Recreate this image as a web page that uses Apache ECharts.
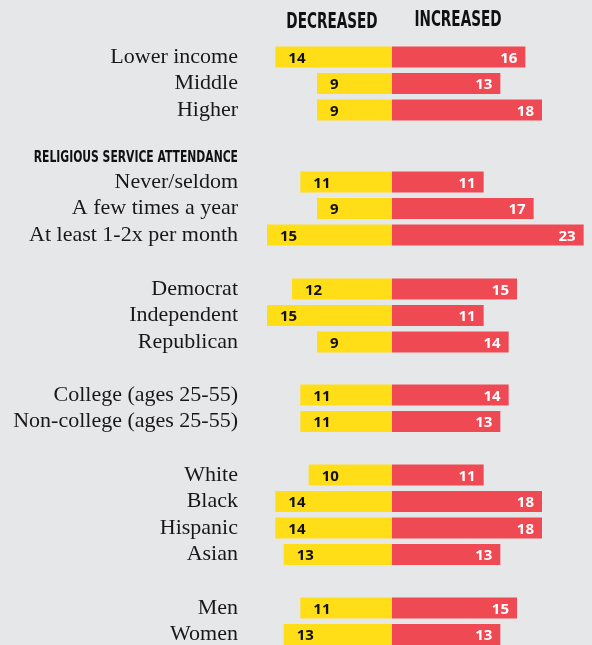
<!DOCTYPE html>
<html>
<head>
<meta charset="utf-8">
<script src="https://cdn.jsdelivr.net/npm/echarts@6/dist/echarts.min.js"></script>
<style>
html,body{margin:0;padding:0;background:#e6e7e8;}
#chart{width:592px;height:645px;}
</style>
</head>
<body>
<div id="chart"></div>
<script>
// ---- data ----
const incomeCats = ['Lower income', 'Middle', 'Higher'];
const incomeDec = [14, 9, 9];
const incomeInc = [16, 13, 18];

const religionTitle = 'RELIGIOUS SERVICE ATTENDANCE';
const religionCats = ['Never/seldom', 'A few times a year', 'At least 1-2x per month'];
const religionDec = [11, 9, 15];
const religionInc = [11, 17, 23];

const partyCats = ['Democrat', 'Independent', 'Republican'];
const partyDec = [12, 15, 9];
const partyInc = [15, 11, 14];

const eduCats = ['College (ages 25-55)', 'Non-college (ages 25-55)'];
const eduDec = [11, 11];
const eduInc = [14, 13];

const raceCats = ['White', 'Black', 'Hispanic', 'Asian'];
const raceDec = [10, 14, 14, 13];
const raceInc = [11, 18, 18, 13];

const genderCats = ['Men', 'Women'];
const genderDec = [11, 13];
const genderInc = [15, 13];

const headerDec = 'DECREASED';
const headerInc = 'INCREASED';

// ---- layout ----
const groups = [
  {cats: incomeCats, dec: incomeDec, inc: incomeInc, first: 57},
  {cats: religionCats, dec: religionDec, inc: religionInc, first: 182},
  {cats: partyCats, dec: partyDec, inc: partyInc, first: 289},
  {cats: eduCats, dec: eduDec, inc: eduInc, first: 395},
  {cats: raceCats, dec: raceDec, inc: raceInc, first: 475},
  {cats: genderCats, dec: genderDec, inc: genderInc, first: 608}
];
const STEP = 26.5;
const YELLOW = '#FFDE17';
const RED = '#EF4A54';

const grid = [], xAxis = [], yAxis = [], series = [];
groups.forEach((g, i) => {
  grid.push({left: 242, width: 350, top: g.first - STEP / 2, height: g.cats.length * STEP,
    outerBoundsMode: 'none'});
  xAxis.push({type: 'value', gridIndex: i, min: -18, max: 24, show: false});
  yAxis.push({
    type: 'category', gridIndex: i, data: g.cats, inverse: true,
    axisLine: {show: false}, axisTick: {show: false}, splitLine: {show: false},
    axisLabel: {margin: 4, interval: 0, hideOverlap: false, color: '#1a1718',
      fontFamily: 'Liberation Serif', fontSize: 22}
  });
  series.push({
    type: 'bar', xAxisIndex: i, yAxisIndex: i, barWidth: 21, barGap: '-100%',
    data: g.dec.map(v => -v), itemStyle: {color: YELLOW}, silent: true,
    label: {show: true, position: 'insideLeft', distance: 13, offset: [0, 1.5],
      formatter: p => Math.abs(p.value), color: '#111', fontFamily: 'Open Sans',
      fontWeight: 'bold', fontSize: 15}
  });
  series.push({
    type: 'bar', xAxisIndex: i, yAxisIndex: i, barWidth: 21, barGap: '-100%',
    data: g.inc, itemStyle: {color: RED}, silent: true,
    label: {show: true, position: 'insideRight', distance: 8, offset: [0, 1.5],
      color: '#fff', fontFamily: 'Open Sans', fontWeight: 'bold', fontSize: 15}
  });
});

const chart = echarts.init(document.getElementById('chart'));
chart.setOption({
  backgroundColor: '#e6e7e8',
  animation: false,
  grid, xAxis, yAxis, series,
  graphic: [
    {type: 'text', x: 332, y: 23, scaleX: 0.72,
      style: {text: headerDec, fill: '#111', font: 'bold 21px "DejaVu Sans Condensed"', align: 'center', verticalAlign: 'middle'}},
    {type: 'text', x: 458, y: 21, scaleX: 0.72,
      style: {text: headerInc, fill: '#111', font: 'bold 21px "DejaVu Sans Condensed"', align: 'center', verticalAlign: 'middle'}},
    {type: 'text', x: 238, y: 158, scaleX: 0.75,
      style: {text: religionTitle, fill: '#111', font: 'bold 16px "DejaVu Sans Condensed"', align: 'right', verticalAlign: 'middle'}}
  ]
});
</script>
</body>
</html>
